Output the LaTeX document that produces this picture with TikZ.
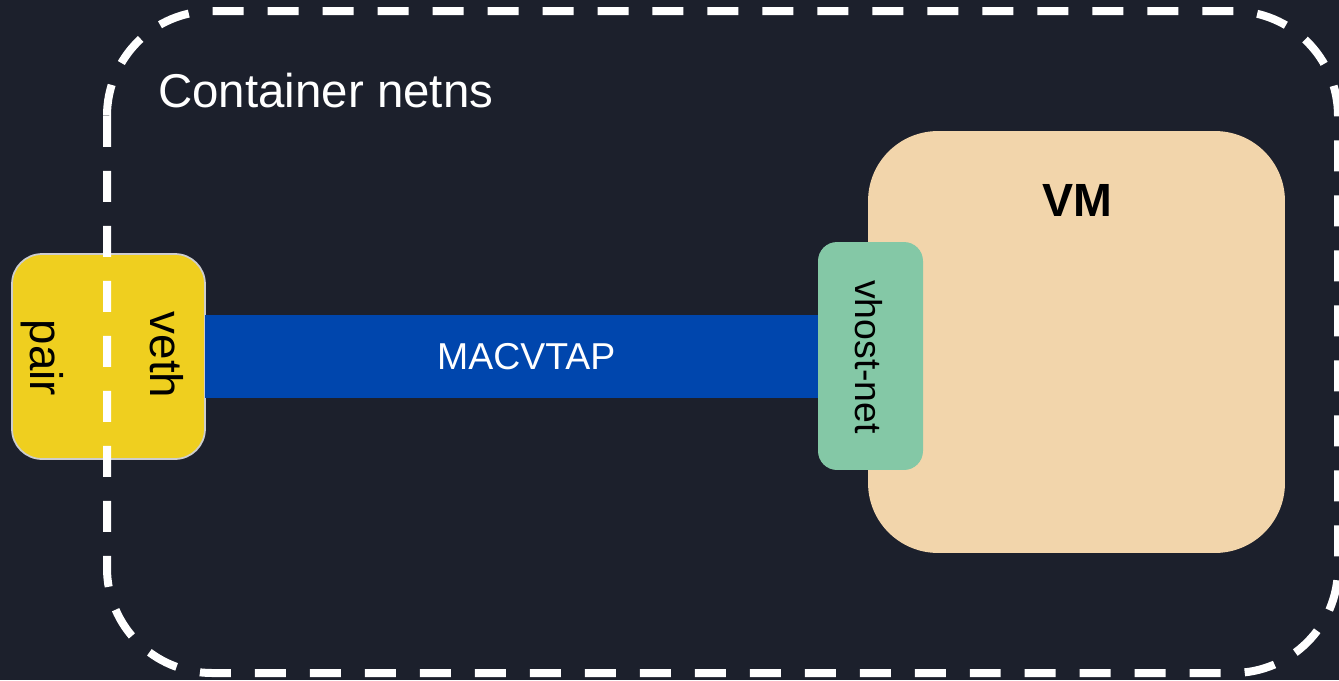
\documentclass[tikz,border=0pt]{standalone}
\usepackage{fontspec}
\setmainfont{Liberation Sans}
\usetikzlibrary{positioning}

\definecolor{bgnavy}{RGB}{28,32,44}
\definecolor{vethyellow}{RGB}{239,207,31}
\definecolor{vethrim}{RGB}{205,205,205}
\definecolor{tapblue}{RGB}{0,70,173}
\definecolor{vmtan}{RGB}{242,213,171}
\definecolor{vhostgreen}{RGB}{132,200,166}

\begin{document}
\begin{tikzpicture}[x=0.02cm,y=-0.02cm,
    port/.style={inner sep=0pt, outer sep=0pt},
    biglbl/.style={inner sep=0pt, font=\fontsize{26}{30}\selectfont},
    midlbl/.style={inner sep=0pt, font=\fontsize{21.3}{25}\selectfont}]
  % --- canvas ---
  \fill[bgnavy] (0,0) rectangle (1339,680);
  \useasboundingbox (0,0) rectangle (1339,680);

  % --- VM with its vhost-net port ---
  \node[port, fill=vmtan, rounded corners=1.4cm,
    minimum width=8.34cm, minimum height=8.44cm] (vm) at (1076.5,342) {};
  \node[port, fill=vhostgreen, rounded corners=0.38cm,
    minimum width=2.1cm, minimum height=4.56cm] (vhost) at (870.5,356) {};

  % --- veth pair ---
  \node[port, fill=vethyellow, draw=vethrim, line width=1pt, rounded corners=0.6cm,
    minimum width=3.86cm, minimum height=4.1cm] (veth) at (108.5,356.5) {};

  % --- macvtap link ---
  \draw[tapblue, line width=1.66cm] (veth.east) -- (veth.east -| vhost.west)
    node[pos=0.524, midlbl, white] (macvtap) {MACVTAP};

  % --- labels ---
  \node[biglbl, rotate=-90] (vethlbl) at (167,355) {veth};
  \node[biglbl, rotate=-90] (pairlbl) at (42,358) {pair};
  \node[midlbl, rotate=-90] (vhostlbl) at (869,357) {vhost-net};
  \node[biglbl, font=\fontsize{26.5}{30}\selectfont\bfseries] (vmlbl) at (1077,200) {VM};
  \node[biglbl, white, anchor=west, font=\fontsize{27}{32}\selectfont] (netnslbl) at (158,91) {Container netns};

  % --- container netns boundary ---
  \draw[white, line width=0.16cm, dash pattern=on 0.62cm off 0.48cm, rounded corners=2.1cm]
    (107,11) rectangle (1338,673);
\end{tikzpicture}
\end{document}
